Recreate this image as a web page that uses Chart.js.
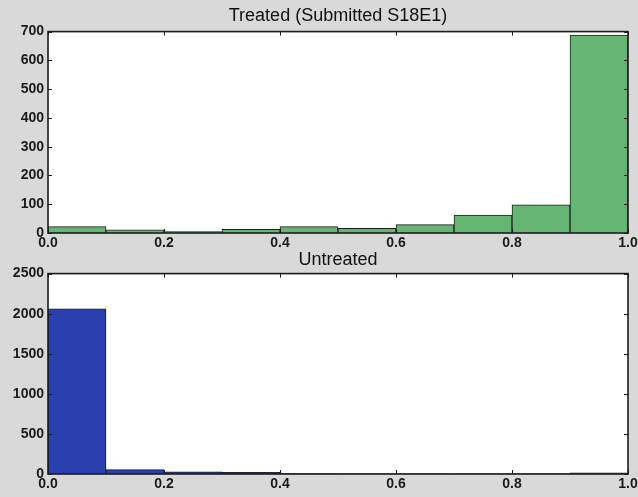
<!DOCTYPE html>
<html>
<head>
<meta charset="utf-8">
<script src="https://cdn.jsdelivr.net/npm/chart.js@4"></script>
<style>
    html, body { margin: 0; padding: 0; background: #d9d9d9; }
    #wrap { position: relative; width: 638px; height: 497px; overflow: hidden; }
    #topChart { position: absolute; left: 0; top: 0; }
    #bottomChart { position: absolute; left: 0; top: 248px; }
</style>
</head>
<body>
<div id="wrap">
    <canvas id="topChart" width="638" height="250"></canvas>
    <canvas id="bottomChart" width="638" height="243"></canvas>
</div>
<script>
// Histogram bins (centres of the 0.1 wide bins)
const binCenters = [0.05, 0.15, 0.25, 0.35, 0.45, 0.55, 0.65, 0.75, 0.85, 0.95];

// Counts
const treatedCounts = [22, 11, 5, 13, 22, 16, 29, 62, 98, 688];
const untreatedCounts = [2060, 55, 27, 22, 6, 3, 2, 2, 3, 15];

const treatedTitle = 'Treated (Submitted S18E1)';
const untreatedTitle = 'Untreated';

const xTicks = [0, 0.2, 0.4, 0.6, 0.8, 1.0];

Chart.defaults.font.family = "'Liberation Sans', Arial, sans-serif";
Chart.defaults.color = '#1a1a1a';

/* --- frame + inward ticks, matplotlib style --- */
const framePlugin = {
    id: 'frame',
    beforeDatasetsDraw(chart) {
        const { ctx, chartArea: a } = chart;
        ctx.save();
        ctx.fillStyle = '#ffffff';
        ctx.fillRect(a.left, a.top, a.right - a.left, a.bottom - a.top);
        ctx.restore();
    },
    afterDatasetsDraw(chart) {
        const { ctx, chartArea: a, scales } = chart;
        ctx.save();
        ctx.strokeStyle = '#1c1c1c';
        ctx.lineWidth = 1;
        const len = 4;
        scales.x.ticks.forEach(t => {
            const px = Math.round(scales.x.getPixelForValue(t.value)) + 0.5;
            ctx.beginPath();
            ctx.moveTo(px, a.top); ctx.lineTo(px, a.top + len);
            ctx.moveTo(px, a.bottom); ctx.lineTo(px, a.bottom - len);
            ctx.stroke();
        });
        scales.y.ticks.forEach(t => {
            const py = Math.round(scales.y.getPixelForValue(t.value)) + 0.5;
            ctx.beginPath();
            ctx.moveTo(a.left, py); ctx.lineTo(a.left + len, py);
            ctx.moveTo(a.right, py); ctx.lineTo(a.right - len, py);
            ctx.stroke();
        });
        ctx.lineWidth = 1.6;
        ctx.strokeRect(a.left, a.top, a.right - a.left, a.bottom - a.top);
        ctx.restore();
    }
};

function makeHist(canvasId, counts, title, color, yMax, yStep, titlePad) {
    const ctx = document.getElementById(canvasId).getContext('2d');
    return new Chart(ctx, {
        type: 'bar',
        data: {
            datasets: [{
                data: binCenters.map((c, i) => ({ x: c, y: counts[i] })),
                backgroundColor: color,
                borderColor: '#1e1e1e',
                borderWidth: 1,
                barPercentage: 1,
                categoryPercentage: 1,
                grouped: false
            }]
        },
        options: {
            responsive: false,
            animation: false,
            layout: { padding: { left: 0, right: 10, top: 0, bottom: 0 } },
            plugins: {
                legend: { display: false },
                tooltip: { enabled: false },
                title: {
                    display: true,
                    fullSize: false,
                    text: title,
                    color: '#111',
                    font: { size: 18, weight: 'normal' },
                    padding: titlePad
                }
            },
            scales: {
                x: {
                    type: 'linear',
                    min: 0,
                    max: 1,
                    offset: false,
                    grid: { display: false, drawTicks: false },
                    border: { display: false },
                    afterBuildTicks: scale => {
                        scale.ticks = xTicks.map(v => ({ value: v }));
                    },
                    ticks: {
                        padding: 2,
                        maxRotation: 0,
                        font: { size: 14, weight: 'bold' },
                        callback: v => v.toFixed(1)
                    },
                    afterFit: scale => {
                        scale.height = 17;
                        scale.paddingLeft = 0;
                        scale.paddingRight = 0;
                    }
                },
                y: {
                    min: 0,
                    max: yMax,
                    grid: { display: false, drawTicks: false },
                    border: { display: false },
                    ticks: {
                        stepSize: yStep,
                        padding: 4,
                        font: { size: 14, weight: 'bold' },
                        callback: v => String(v)
                    },
                    afterFit: scale => {
                        scale.width = 48;
                        scale.paddingTop = 0;
                        scale.paddingBottom = 0;
                    }
                }
            }
        },
        plugins: [framePlugin]
    });
}

makeHist('topChart', treatedCounts, treatedTitle, '#66b673', 700, 100, { top: 5, bottom: 5 });
makeHist('bottomChart', untreatedCounts, untreatedTitle, '#2a40ae', 2500, 500, { top: 1, bottom: 3 });
</script>
</body>
</html>
